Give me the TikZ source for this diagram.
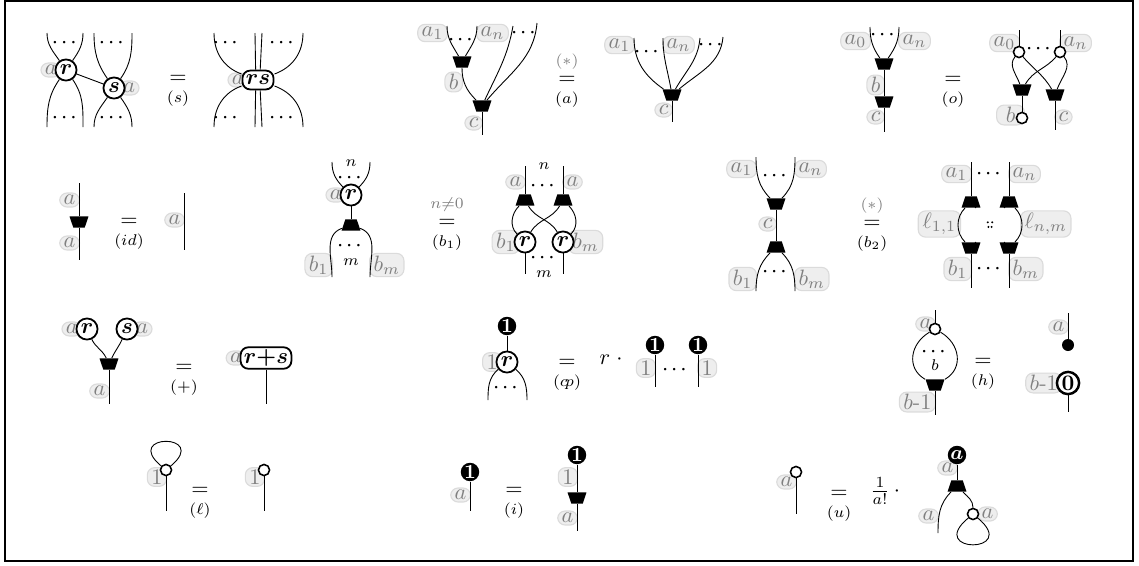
\documentclass[tikz,border=0pt]{standalone}
\usepackage{amsmath}
\usepackage{amssymb}
\usepackage{tikz}
\usetikzlibrary{positioning,shapes.geometric}
\pgfdeclarelayer{background}
\pgfdeclarelayer{foreground}
\pgfsetlayers{background,main,foreground}
\tikzset{
  lbl/.style={rounded corners=3.3pt, fill=gray!13, draw=gray!28, line width=0.5pt, text=gray, inner xsep=1.8pt, inner ysep=1pt},
  gen/.style={circle, draw, fill=white, line width=0.8pt, inner sep=0pt, minimum size=9.5pt},
  gbox/.style={rounded corners=3.5pt, draw, fill=white, line width=0.8pt, inner xsep=1.5pt, inner ysep=1pt, minimum height=8.5pt},
  one/.style={circle, fill=black, text=white, inner sep=0pt, minimum size=8.3pt, font=\small\bfseries},
  wdot/.style={circle, draw, fill=white, line width=0.7pt, inner sep=0pt, minimum size=5pt},
  bdot/.style={circle, fill=black, inner sep=0pt, minimum size=5.4pt},
  zero/.style={circle, draw, fill=white, line width=1.1pt, inner sep=0pt, minimum size=10pt, font=\bfseries},
  mrg/.style={trapezium, fill=black, shape border rotate=180, trapezium angle=72, trapezium stretches=true, minimum width=8.5pt, minimum height=5pt, inner xsep=1pt, inner ysep=1pt},
  spl/.style={mrg, shape border rotate=0},
  eq/.style={inner sep=0pt},
  eqlab/.style={inner sep=0pt, font=\scriptsize},
  dts/.style={inner sep=0pt, font=\scriptsize},
}
\begin{document}
\begin{tikzpicture}[x=0.45pt,y=-0.45pt,line width=0.6pt]
\useasboundingbox (0,0) rectangle (1139,565);
\draw[line width=0.9pt] (5,1) rectangle (1133,561);

\begin{pgfonlayer}{foreground}
% row 1
\node[gen] (Slr) at (66,70) {$\boldsymbol{r}$};
\node[gen] (Sls) at (114,88) {$\boldsymbol{s}$};
\node[gbox, minimum width=14pt] (Srrs) at (258,80) {$\boldsymbol{rs}$};
\node[mrg] (Alm1) at (462,62) {};
\node[mrg] (Alm2) at (482,106) {};
\node[mrg] (Arm) at (672,95) {};
\node[mrg] (Olm1) at (884,64) {};
\node[mrg] (Olm2) at (884,102) {};
\node[wdot] (Orw1) at (1019,52) {};
\node[wdot] (Orw2) at (1060,52) {};
\node[mrg] (Orm1) at (1022,90) {};
\node[mrg] (Orm2) at (1055,95) {};
\node[wdot] (Orw3) at (1022,118) {};
% row 2
\node[mrg] (Ilm) at (79,222) {};
\node[gen] (Blr) at (351,195) {$\boldsymbol{r}$};
\node[spl] (Bls) at (351,225) {};
\node[spl] (Brs1) at (525,200) {};
\node[spl] (Brs2) at (563,200) {};
\node[gen] (Brr1) at (525,242) {$\boldsymbol{r}$};
\node[gen] (Brr2) at (563,242) {$\boldsymbol{r}$};
\node[mrg] (Clm) at (776,204) {};
\node[spl] (Cls) at (776,247) {};
\node[spl] (Crs1) at (971,202) {};
\node[spl] (Crs2) at (1009,202) {};
\node[mrg] (Crm1) at (971,248) {};
\node[mrg] (Crm2) at (1009,248) {};
% row 3
\node[gen] (Plr) at (87,329) {$\boldsymbol{r}$};
\node[gen] (Pls) at (127,329) {$\boldsymbol{s}$};
\node[mrg] (Plm) at (109,364) {};
\node[gbox, minimum width=20.7pt] (Prb) at (266,358) {$\boldsymbol{r{+}s}$};
\node[one] (Klo) at (507,326) {1};
\node[gen] (Klr) at (507,362) {$\boldsymbol{r}$};
\node[one] (Kro1) at (655,345) {1};
\node[one] (Kro2) at (698,345) {1};
\node[wdot] (Hlw) at (935,329) {};
\node[mrg] (Hlm) at (935,385) {};
\node[bdot] (Hrd) at (1068,345) {};
\node[zero] (Hrz) at (1068,383) {0};
% row 4
\node[wdot] (Llw) at (166,470) {};
\node[wdot] (Lrw) at (264,470) {};
\node[one] (Nlo) at (470,472) {1};
\node[one] (Nro) at (577,455) {1};
\node[mrg] (Nrm) at (577,498) {};
\node[wdot] (Ulw) at (796,472) {};
\node[one] (Uro) at (957,455) {$\boldsymbol{a}$};
\node[spl] (Urs) at (957,486) {};
\node[wdot] (Urw) at (973,514) {};
\end{pgfonlayer}

\begin{pgfonlayer}{background}
\node[lbl, left=-3pt of Slr] (Slra) {$a$}; %(s)
\node[lbl, right=-3pt of Sls] (Slsa) {$a$};
\node[lbl, left=-3pt of Srrs] (Srra) {$a$};
\node[lbl, anchor=east] (Ala1) at (448,33) {$a_1$}; %(a)
\node[lbl, anchor=west] (Alan) at (476,33) {$a_n$};
\node[lbl, anchor=east] (Alb) at (463,82) {$b$};
\node[lbl, anchor=east] (Alc) at (483,123) {$c$};
\node[lbl, anchor=east] (Ara1) at (635,45) {$a_1$};
\node[lbl, anchor=west] (Aran) at (662,45) {$a_n$};
\node[lbl, anchor=east] (Arc) at (673,110) {$c$};
\node[lbl, anchor=east] (Ola0) at (871,41) {$a_0$}; %(o)
\node[lbl, anchor=west] (Olan) at (898,41) {$a_n$};
\node[lbl, anchor=east] (Olb) at (885,85) {$b$};
\node[lbl, anchor=east] (Olc) at (885,117) {$c$};
\node[lbl, anchor=east] (Ora0) at (1020,43) {$a_0$};
\node[lbl, anchor=west] (Oran) at (1059,43) {$a_n$};
\node[lbl, anchor=east, minimum width=12.5pt] (Orb) at (1025,115) {$b$};
\node[lbl, anchor=west] (Orc) at (1054,117) {$c$};
\node[lbl, anchor=east] (Ila1) at (80,200) {$a$}; %(id)
\node[lbl, anchor=east] (Ila2) at (80,243) {$a$};
\node[lbl, anchor=east] (Ira) at (185,220) {$a$};
\node[lbl, left=-3pt of Blr] (Bla) {$a$}; %(b1)
\node[lbl, anchor=east] (Blb1) at (333,265) {$b_1$};
\node[lbl, anchor=west] (Blbm) at (369,265) {$b_m$};
\node[lbl, anchor=east] (Bra1) at (526,182) {$a$};
\node[lbl, anchor=west] (Bra2) at (562,182) {$a$};
\node[lbl, left=-3pt of Brr1] (Brb1) {$b_1$};
\node[lbl, right=-3pt of Brr2] (Brbm) {$b_m$};
\node[lbl, anchor=east] (Cla1) at (757,169) {$a_1$}; %(b2)
\node[lbl, anchor=west] (Clan) at (794,169) {$a_n$};
\node[lbl, anchor=east] (Clc) at (777,224) {$c$};
\node[lbl, anchor=east] (Clb1) at (757,279) {$b_1$};
\node[lbl, anchor=west] (Clbm) at (794,279) {$b_m$};
\node[lbl, anchor=east] (Cra1) at (972,174) {$a_1$};
\node[lbl, anchor=west] (Cran) at (1008,174) {$a_n$};
\node[lbl, anchor=east, minimum width=19pt] (Crl1) at (961,224) {$\ell_{1,1}$};
\node[lbl, anchor=west, minimum width=19pt] (Crl2) at (1020,224) {$\ell_{n,m}$};
\node[lbl, anchor=east] (Crb1) at (972,269) {$b_1$};
\node[lbl, anchor=west] (Crbm) at (1008,269) {$b_m$};
\node[lbl, left=-3pt of Plr] (Plra) {$a$}; %(+)
\node[lbl, right=-3pt of Pls] (Plsa) {$a$};
\node[lbl, anchor=east] (Pla) at (110,391) {$a$};
\node[lbl, left=-3pt of Prb] (Prba) {$a$};
\node[lbl, left=-3pt of Klr] (Kl1) {$1$}; %(cp)
\node[lbl, anchor=east] (Kr1) at (656,368) {$1$};
\node[lbl, anchor=west] (Kr2) at (697,368) {$1$};
\node[lbl, anchor=east] (Hla) at (936,324) {$a$}; %(h)
\node[lbl, anchor=east] (Hlb) at (936,402) {$b$-1};
\node[lbl, anchor=east] (Hra) at (1069,327) {$a$};
\node[lbl, left=-3pt of Hrz] (Hrb) {$b$-1};
\node[lbl, anchor=east] (Ll1) at (167,477) {$1$}; %(l)
\node[lbl, anchor=east] (Lr1) at (265,477) {$1$};
\node[lbl, anchor=east] (Nla) at (471,495) {$a$}; %(i)
\node[lbl, anchor=east] (Nr1) at (578,477) {$1$};
\node[lbl, anchor=east] (Nra) at (578,518) {$a$};
\node[lbl, anchor=east] (Ula) at (797,482) {$a$}; %(u)
\node[lbl, anchor=east] (Ura1) at (958,468) {$a$};
\node[lbl, anchor=east] (Ura2) at (939,516) {$a$};
\node[lbl, right=-1pt of Urw] (Ura3) {$a$};
\end{pgfonlayer}

% (s)
\coordinate (Sa) at (47,33); \coordinate (Sb) at (83,33);
\coordinate (Sc) at (47,127); \coordinate (Sd) at (83,127);
\coordinate (Se) at (94,33); \coordinate (Sf) at (132,33);
\coordinate (Sg) at (94,127); \coordinate (Sh) at (132,127);
\draw (Sa) to[out=-90,in=125] (Slr);
\draw (Sb) to[out=-90,in=55] (Slr);
\draw (Sc) to[out=90,in=-125] (Slr);
\draw (Sd) to[out=90,in=-55] (Slr);
\draw (Se) to[out=-90,in=125] (Sls);
\draw (Sf) to[out=-90,in=55] (Sls);
\draw (Sg) to[out=90,in=-125] (Sls);
\draw (Sh) to[out=90,in=-55] (Sls);
\draw (Slr) -- (Sls);
\node[dts] (Sd1) at (66,43) {$\boldsymbol{\cdots}$};
\node[dts] (Sd2) at (66,118) {$\boldsymbol{\cdots}$};
\node[dts] (Sd3) at (113,43) {$\boldsymbol{\cdots}$};
\node[dts] (Sd4) at (113,118) {$\boldsymbol{\cdots}$};
\node[eq] (Se1) at (178,79) {$=$};
\node[eqlab, below=3pt of Se1] (Se1b) {$(s)$};
\coordinate (Si) at (214,33); \coordinate (Sj) at (255,33);
\coordinate (Sk) at (262,33); \coordinate (Sl) at (303,33);
\coordinate (Sm) at (214,127); \coordinate (Sn) at (255,127);
\coordinate (So) at (262,127); \coordinate (Sp) at (303,127);
\draw (Si) to[out=-90,in=160] (Srrs.160);
\draw (Sj) -- (Srrs.103);
\draw (Sk) -- (Srrs.78);
\draw (Sl) to[out=-90,in=20] (Srrs.20);
\draw (Sm) to[out=90,in=-160] (Srrs.-160);
\draw (Sn) -- (Srrs.-103);
\draw (So) -- (Srrs.-78);
\draw (Sp) to[out=90,in=-20] (Srrs.-20);
\node[dts] (Sd5) at (227,43) {$\boldsymbol{\cdots}$};
\node[dts] (Sd6) at (283,43) {$\boldsymbol{\cdots}$};
\node[dts] (Sd7) at (227,118) {$\boldsymbol{\cdots}$};
\node[dts] (Sd8) at (283,118) {$\boldsymbol{\cdots}$};

% (a)
\coordinate (Alt1) at (447,26); \coordinate (Alt2) at (477,26);
\coordinate (Alt3) at (513,26); \coordinate (Alt4) at (537,23);
\coordinate (Alo) at (482,135);
\draw (Alt1) to[out=-90,in=120] (Alm1);
\draw (Alt2) to[out=-90,in=60] (Alm1);
\draw (Alm1) to[out=-90,in=135] (Alm2);
\draw (Alt3) to[out=-100,in=65] (Alm2);
\draw (Alt4) to[out=-95,in=50] (Alm2);
\draw (Alm2) -- (Alo);
\node[dts] (Ald1) at (462,40) {$\boldsymbol{\cdots}$};
\node[dts] (Ald2) at (525,33) {$\boldsymbol{\cdots}$};
\node[eq] (Ae1) at (567,80) {$=$};
\node[eqlab, below=3pt of Ae1] (Ae1b) {$(a)$};
\node[eqlab, text=gray, above=2.5pt of Ae1] (Ae1t) {$(*)$};
\coordinate (Art1) at (634,38); \coordinate (Art2) at (663,38);
\coordinate (Art3) at (700,38); \coordinate (Art4) at (723,37);
\coordinate (Aro) at (672,122);
\draw (Art1) to[out=-90,in=145] (Arm);
\draw (Art2) to[out=-90,in=100] (Arm);
\draw (Art3) to[out=-95,in=60] (Arm);
\draw (Art4) to[out=-95,in=40] (Arm);
\draw (Arm) -- (Aro);
\node[dts] (Ard1) at (648,52) {$\boldsymbol{\cdots}$};
\node[dts] (Ard2) at (712,45) {$\boldsymbol{\cdots}$};

% (o)
\coordinate (Olt1) at (870,27); \coordinate (Olt2) at (899,27);
\coordinate (Olo) at (884,132);
\draw (Olt1) to[out=-90,in=125] (Olm1);
\draw (Olt2) to[out=-90,in=55] (Olm1);
\draw (Olm1) -- (Olm2) -- (Olo);
\node[dts] (Old1) at (884,35) {$\boldsymbol{\cdots}$};
\node[eq] (Oe1) at (953,80) {$=$};
\node[eqlab, below=3pt of Oe1] (Oe1b) {$(o)$};
\coordinate (Ort1) at (1019,30); \coordinate (Ort2) at (1060,30);
\coordinate (Oro) at (1055,130);
\draw (Ort1) -- (Orw1);
\draw (Ort2) -- (Orw2);
\draw (Orw1) to[out=-130,in=110] (Orm1);
\draw (Orw1) to[out=-50,in=120] (Orm2);
\draw (Orw2) to[out=-50,in=70] (Orm2);
\draw (Orw2) to[out=-130,in=60] (Orm1);
\draw (Orm1) -- (Orw3);
\draw (Orm2) -- (Oro);
\node[dts] (Ord1) at (1040,49) {$\boldsymbol{\cdots}$};

% (id)
\coordinate (Ilt) at (79,183); \coordinate (Ilo) at (79,260);
\coordinate (Irt) at (184,193); \coordinate (Iro) at (184,250);
\draw (Ilt) -- (Ilm) -- (Ilo);
\draw (Irt) -- (Iro);
\node[eq] (Ie1) at (129,222) {$=$};
\node[eqlab, below=3pt of Ie1] (Ie1b) {$(id)$};

% (b1)
\coordinate (Blt1) at (332,162); \coordinate (Blt2) at (370,162);
\coordinate (Blo1) at (332,277); \coordinate (Blo2) at (370,277);
\draw (Blt1) to[out=-90,in=135] (Blr);
\draw (Blt2) to[out=-90,in=45] (Blr);
\draw (Blr) -- (Bls);
\draw (Bls) to[out=-160,in=90] (Blo1);
\draw (Bls) to[out=-20,in=90] (Blo2);
\node[dts] (Bln) at (351,163) {$n$};
\node[dts] (Bld1) at (351,178) {$\boldsymbol{\cdots}$};
\node[dts] (Bld2) at (351,246) {$\boldsymbol{\cdots}$};
\node[dts] (Blm) at (351,262) {$m$};
\node[eq] (Be1) at (447,223) {$=$};
\node[eqlab, below=3pt of Be1] (Be1b) {$(b_1)$};
\node[eqlab, text=gray, above=3pt of Be1] (Be1t) {$n{\neq}0$};
\coordinate (Brt1) at (525,166); \coordinate (Brt2) at (563,166);
\coordinate (Bro1) at (525,274); \coordinate (Bro2) at (563,274);
\draw (Brt1) -- (Brs1);
\draw (Brt2) -- (Brs2);
\draw (Brs1) to[out=-135,in=135] (Brr1);
\draw (Brs1) to[out=-60,in=120] (Brr2);
\draw (Brs2) to[out=-120,in=60] (Brr1);
\draw (Brs2) to[out=-45,in=45] (Brr2);
\draw (Brr1) -- (Bro1);
\draw (Brr2) -- (Bro2);
\node[dts] (Brn) at (544,166) {$n$};
\node[dts] (Brd1) at (544,186) {$\boldsymbol{\cdots}$};
\node[dts] (Brd2) at (544,258) {$\boldsymbol{\cdots}$};
\node[dts] (Brm) at (544,274) {$m$};

% (b2)
\coordinate (Clt1) at (756,157); \coordinate (Clt2) at (795,157);
\coordinate (Clo1) at (756,291); \coordinate (Clo2) at (795,291);
\draw (Clt1) to[out=-90,in=135] (Clm);
\draw (Clt2) to[out=-90,in=45] (Clm);
\draw (Clm) -- (Cls);
\draw (Cls) to[out=-135,in=90] (Clo1);
\draw (Cls) to[out=-45,in=90] (Clo2);
\node[dts] (Cld1) at (776,176) {$\boldsymbol{\cdots}$};
\node[dts] (Cld2) at (776,272) {$\boldsymbol{\cdots}$};
\node[eq] (Ce1) at (872,224) {$=$};
\node[eqlab, below=3pt of Ce1] (Ce1b) {$(b_2)$};
\node[eqlab, text=gray, above=2.5pt of Ce1] (Ce1t) {$(*)$};
\coordinate (Crt1) at (971,162); \coordinate (Crt2) at (1009,162);
\coordinate (Cro1) at (971,288); \coordinate (Cro2) at (1009,288);
\draw (Crt1) -- (Crs1);
\draw (Crt2) -- (Crs2);
\draw (Crs1) to[out=-135,in=135] (Crm1);
\draw (Crs2) to[out=-45,in=45] (Crm2);
\draw (Crm1) -- (Cro1);
\draw (Crm2) -- (Cro2);
\draw[shorten >=21pt] (Crs1) -- (Crm2);
\draw[shorten >=21pt] (Crs2) -- (Crm1);
\draw[shorten >=21pt] (Crm1) -- (Crs2);
\draw[shorten >=21pt] (Crm2) -- (Crs1);
\draw[dotted, line width=0.7pt, shorten <=8pt, shorten >=8pt] (Crs1) -- (Crm2);
\draw[dotted, line width=0.7pt, shorten <=8pt, shorten >=8pt] (Crs2) -- (Crm1);
\node[dts] (Crd1) at (990,174) {$\boldsymbol{\cdots}$};
\node[dts] (Crd2) at (990,269) {$\boldsymbol{\cdots}$};

% (+)
\coordinate (Plo) at (109,404); \coordinate (Pro) at (266,404);
\draw (Plr) to[out=-65,in=115] (Plm);
\draw (Pls) to[out=-115,in=65] (Plm);
\draw (Plm) -- (Plo);
\draw (Prb) -- (Pro);
\node[eq] (Pe1) at (184,368) {$=$};
\node[eqlab, below=3pt of Pe1] (Pe1b) {$(+)$};

% (cp)
\coordinate (Kla) at (488,400); \coordinate (Klb) at (527,400);
\coordinate (Krc) at (655,387); \coordinate (Krd) at (698,387);
\draw (Klo) -- (Klr);
\draw (Klr) to[out=-140,in=90] (Kla);
\draw (Klr) to[out=-40,in=90] (Klb);
\draw (Kro1) -- (Krc);
\draw (Kro2) -- (Krd);
\node[dts] (Kld) at (507,388) {$\boldsymbol{\cdots}$};
\node[eq] (Ke1) at (567,363) {$=$};
\node[eqlab, below=3pt of Ke1] (Ke1b) {$(c\!p)$};
\node[inner sep=0pt] (Kr) at (611,360) {$r\;\cdot$};
\node[dts] (Krdots) at (676,370) {$\boldsymbol{\cdots}$};

% (h)
\coordinate (Hlt) at (935,310); \coordinate (Hlo) at (935,415);
\coordinate (Hrt) at (1068,313); \coordinate (Hro) at (1068,412);
\draw (Hlt) -- (Hlw);
\draw (Hlw) to[out=-150,in=150,looseness=1.2] (Hlm);
\draw (Hlw) to[out=-30,in=30,looseness=1.2] (Hlm);
\draw (Hlm) -- (Hlo);
\draw (Hrt) -- (Hrd);
\draw (Hrz) -- (Hro);
\node[dts] (Hld) at (935,352) {$\boldsymbol{\cdots}$};
\node[dts] (Hlbb) at (935,365) {$b$};
\node[eq] (He1) at (983,362) {$=$};
\node[eqlab, below=3pt of He1] (He1b) {$(h)$};

% (l)
\coordinate (Llo) at (166,511); \coordinate (Lro) at (264,511);
\draw (Llw) to[out=140,in=40,min distance=23pt] (Llw);
\draw (Llw) -- (Llo);
\draw (Lrw) -- (Lro);
\node[eq] (Le1) at (200,491) {$=$};
\node[eqlab, below=3pt of Le1] (Le1b) {$(\ell)$};

% (i)
\coordinate (Nlb) at (470,511); \coordinate (Nrb) at (577,531);
\draw (Nlo) -- (Nlb);
\draw (Nro) -- (Nrm) -- (Nrb);
\node[eq] (Ne1) at (514,491) {$=$};
\node[eqlab, below=3pt of Ne1] (Ne1b) {$(i)$};

% (u)
\coordinate (Ulb) at (796,514); \coordinate (Urb) at (938,533);
\draw (Ulw) -- (Ulb);
\draw (Uro) -- (Urs);
\draw (Urs) to[out=-135,in=90] (Urb);
\draw (Urs) to[out=-45,in=90] (Urw);
\draw (Urw) to[out=-140,in=-40,min distance=25pt] (Urw);
\node[eq] (Ue1) at (839,494) {$=$};
\node[eqlab, below=3pt of Ue1] (Ue1b) {$(u)$};
\node[inner sep=0pt] (Ufr) at (885,491) {$\frac{1}{a!}\,\cdot$};
\end{tikzpicture}
\end{document}
